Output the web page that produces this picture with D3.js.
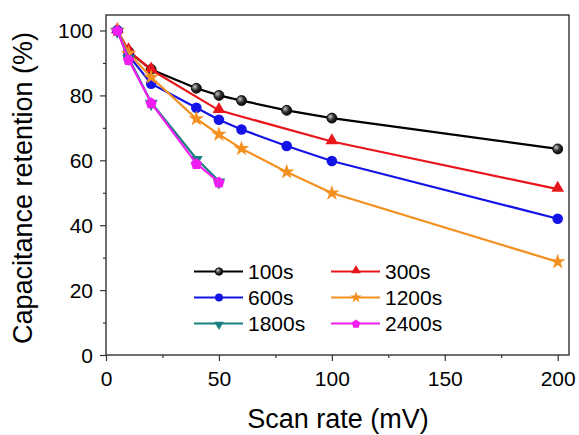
<!DOCTYPE html>
<html><head><meta charset="utf-8">
<script src="https://cdn.jsdelivr.net/npm/d3@7/dist/d3.min.js"></script>
<style>body{margin:0;background:#fff}svg{display:block;font-family:Arial,"Liberation Sans",sans-serif}</style>
</head><body><svg id="c" width="579" height="435"></svg>
<script>
const xTicks = [0, 50, 100, 150, 200];
const yTicks = [0, 20, 40, 60, 80, 100];
const seriesNames = ["100s", "300s", "600s", "1200s", "1800s", "2400s"];
const x100 = [5, 10, 20, 40, 50, 60, 80, 100, 200];
const y100 = [100, 93.5, 88.0, 82.2, 80.0, 78.4, 75.4, 73.0, 63.5];
const x300 = [5, 10, 20, 50, 100, 200];
const y300 = [100, 93.8, 87.9, 75.4, 65.8, 51.1];
const x600 = [5, 10, 20, 40, 50, 60, 80, 100, 200];
const y600 = [100, 92.3, 83.6, 76.2, 72.5, 69.5, 64.4, 59.8, 42.0];
const x1200 = [5, 10, 20, 40, 50, 60, 80, 100, 200];
const y1200 = [100, 93.0, 85.6, 72.8, 68.0, 63.6, 56.4, 49.9, 28.7];
const x1800 = [5, 10, 20, 40, 50];
const y1800 = [100, 91.6, 77.8, 60.5, 53.6];
const x2400 = [5, 10, 20, 40, 50];
const y2400 = [100, 91.0, 77.7, 59.0, 53.3];

const colors = ["#000000", "#e8161b", "#1414e6", "#f39020", "#17807f", "#f01ff0"];
const shapes = ["sphere", "triangle", "circle", "star", "triDown", "pentagon"];
const xs = [x100, x300, x600, x1200, x1800, x2400];
const ys = [y100, y300, y600, y1200, y1800, y2400];

const svg = d3.select("#c");
const L = 106, R = 569, T = 15, B = 355;
const x = d3.scaleLinear().domain([0, 205]).range([L, L + 205 * (557.7 - 106) / 200]);
const y = d3.scaleLinear().domain([0, 100]).range([B, 30.5]);

const defs = svg.append("defs");
const g = defs.append("radialGradient").attr("id", "sph").attr("cx", "0.35").attr("cy", "0.35").attr("r", "0.7");
g.append("stop").attr("offset", "0").attr("stop-color", "#c8c8c8");
g.append("stop").attr("offset", "0.5").attr("stop-color", "#333");
g.append("stop").attr("offset", "1").attr("stop-color", "#000");

function marker(sel, shape, color, s) {
  if (shape === "sphere") {
    sel.append("circle").attr("r", 5 * s).attr("fill", "url(#sph)").attr("stroke", "#000").attr("stroke-width", 0.8);
  } else if (shape === "circle") {
    sel.append("circle").attr("r", 5.3 * s).attr("fill", color);
  } else if (shape === "triangle") {
    sel.append("path").attr("d", d3.symbol(d3.symbolTriangle, 70 * s * s)()).attr("fill", color).attr("transform", "translate(0,-1)");
  } else if (shape === "triDown") {
    sel.append("path").attr("d", d3.symbol(d3.symbolTriangle, 70 * s * s)()).attr("fill", color).attr("transform", "rotate(180) translate(0,-1)");
  } else if (shape === "star") {
    sel.append("path").attr("d", d3.symbol(d3.symbolStar, 75 * s * s)()).attr("fill", color);
  } else if (shape === "pentagon") {
    const r = 6 * s;
    const pts = d3.range(5).map(i => { const a = -Math.PI / 2 + i * 2 * Math.PI / 5; return [r * Math.cos(a), r * Math.sin(a) + 0.5]; });
    sel.append("path").attr("d", "M" + pts.map(p => p.join(",")).join("L") + "Z").attr("fill", color);
  }
}

// axes
const xAxis = d3.axisBottom(x).tickValues(xTicks).tickSize(6).tickPadding(10).tickSizeOuter(0);
const xMinor = d3.axisBottom(x).tickValues([25, 75, 125, 175]).tickSize(3).tickFormat("").tickSizeOuter(0);
const yAxis = d3.axisLeft(y).tickValues(yTicks).tickSize(6).tickPadding(7).tickSizeOuter(0);
const yMinor = d3.axisLeft(y).tickValues([10, 30, 50, 70, 90]).tickSize(3).tickFormat("").tickSizeOuter(0);

function styleAxis(ax) {
  ax.select(".domain").remove();
  ax.selectAll(".tick line").attr("stroke", "#333").attr("stroke-width", 1.2);
  ax.selectAll("text").attr("fill", "#000").style("font-size", "21px");
}
const gx = svg.append("g").attr("transform", `translate(0,${B})`).call(xAxis); styleAxis(gx);
const gxm = svg.append("g").attr("transform", `translate(0,${B})`).call(xMinor); styleAxis(gxm);
const gy = svg.append("g").attr("transform", `translate(${L},0)`).call(yAxis); styleAxis(gy);
gy.selectAll("text").attr("dy", "0.35em");
const gym = svg.append("g").attr("transform", `translate(${L},0)`).call(yMinor); styleAxis(gym);

svg.append("rect").attr("x", L).attr("y", T).attr("width", R - L).attr("height", B - T)
  .attr("fill", "none").attr("stroke", "#333").attr("stroke-width", 1.4);

// series
const line = d3.line().x(d => x(d[0])).y(d => y(d[1]));
seriesNames.forEach((name, i) => {
  const data = xs[i].map((v, j) => [v, ys[i][j]]);
  const sg = svg.append("g");
  sg.append("path").datum(data).attr("d", line).attr("fill", "none").attr("stroke", colors[i]).attr("stroke-width", 2.2);
  data.forEach(d => {
    const m = sg.append("g").attr("transform", `translate(${x(d[0])},${y(d[1])})`);
    marker(m, shapes[i], colors[i], 1);
  });
});

// legend
const legX = [194, 331], legY = [271.5, 297.5, 323.5];
seriesNames.forEach((name, i) => {
  const col = i % 2, row = Math.floor(i / 2);
  const lg = svg.append("g").attr("transform", `translate(${legX[col]},${legY[row]})`);
  lg.append("line").attr("x1", 0).attr("x2", 49).attr("y1", 0).attr("y2", 0).attr("stroke", colors[i]).attr("stroke-width", 2.2);
  const m = lg.append("g").attr("transform", "translate(25,0)");
  marker(m, shapes[i], colors[i], 0.75);
  lg.append("text").attr("x", 54).attr("y", 0).attr("dy", "0.36em").style("font-size", "21px").attr("fill", "#000").text(name);
});

// titles
svg.append("text").attr("x", 338).attr("y", 428).attr("text-anchor", "middle").style("font-size", "27px").attr("fill", "#000").text("Scan rate (mV)");
svg.append("text").attr("transform", "translate(32,188) rotate(-90)").attr("text-anchor", "middle").style("font-size", "27px").attr("fill", "#000").text("Capacitance retention (%)");
</script></body></html>
